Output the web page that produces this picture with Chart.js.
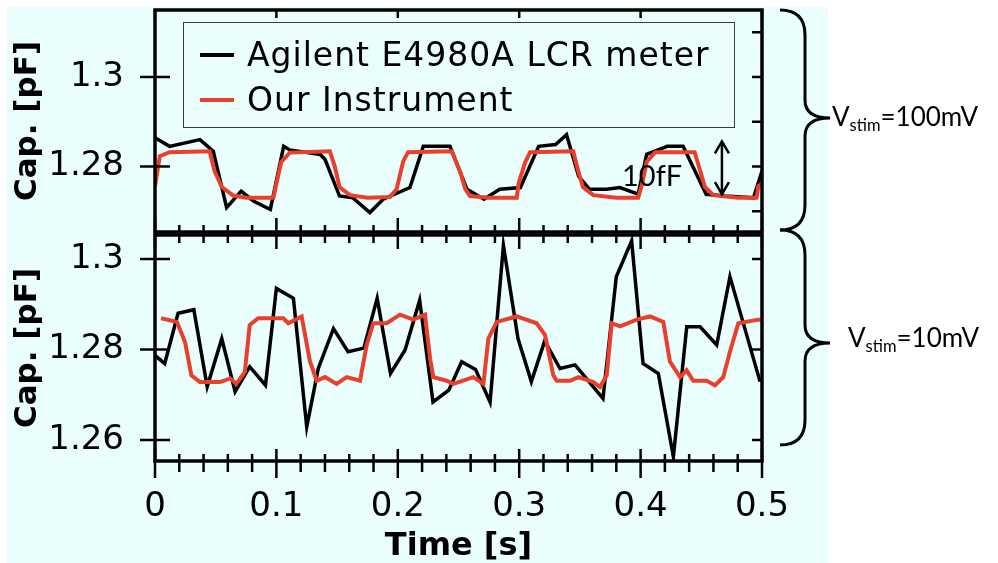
<!DOCTYPE html>
<html>
<head>
<meta charset="utf-8">
<title>Capacitance vs time</title>
<script src="https://cdn.jsdelivr.net/npm/chart.js@4.4.1/dist/chart.umd.min.js"></script>
<style>
    body { margin: 0; background: #fff; }
    #stage { position: relative; width: 998px; height: 563px; overflow: hidden; }
    #panel { position: absolute; left: 7px; top: 7px; width: 821px; height: 556px; background: #ebfefe; }
    canvas { position: absolute; left: 0; top: 0; }
    .legend { position: absolute; left: 183px; top: 22px; width: 550px; height: 104px;
              border: 1.5px solid #3c3c3c; font-family: "DejaVu Sans"; font-size: 33px; letter-spacing: 1px; }
    .legend .row { position: absolute; left: 63px; height: 40px; line-height: 40px; white-space: nowrap; }
    .legend .swatch { position: absolute; left: 16px; width: 34px; height: 3.5px; }
    .note { position: absolute; font-family: Lato; white-space: nowrap; color: #000; }
    .note .sub { font-size: 16.5px; position: relative; top: 5px; }
    svg { position: absolute; left: 0; top: 0; }
</style>
</head>
<body>
<div id="stage">
    <div id="panel"></div>
    <canvas id="capTop" width="998" height="563"></canvas>
    <canvas id="capBottom" width="998" height="563"></canvas>

    <div class="legend">
        <span class="swatch" style="top:30px;background:#000"></span>
        <div class="row" style="top:12px">Agilent E4980A LCR meter</div>
        <span class="swatch" style="top:75px;background:#e9402d"></span>
        <div class="row" style="top:57px">Our Instrument</div>
    </div>

    <div class="note" style="left:622px;top:160px;font-size:29px;line-height:30px">10fF</div>

    <svg width="998" height="563">
        <path d="M780,10 Q805,10 805,35 L805,100 Q805,118 830,118 Q805,118 805,136 L805,205 Q805,230 780,230"
              fill="none" stroke="#000" stroke-width="3"/>
        <path d="M780,230 Q805,230 805,255 L805,325 Q805,343 830,343 Q805,343 805,361 L805,420 Q805,445 780,445"
              fill="none" stroke="#000" stroke-width="3"/>
    </svg>
    <div class="note" style="left:832px;top:103px;font-size:26px;line-height:26px">V<span class="sub">stim</span>=100mV</div>
    <div class="note" style="left:848px;top:324px;font-size:26px;line-height:26px">V<span class="sub">stim</span>=10mV</div>
</div>

<script>
// Axis ticks
const xTickVals = [0, 0.1, 0.2, 0.3, 0.4, 0.5];
const xMinorVals = [0.02, 0.04, 0.06, 0.08, 0.12, 0.14, 0.16, 0.18, 0.22, 0.24, 0.26, 0.28,
                    0.32, 0.34, 0.36, 0.38, 0.42, 0.44, 0.46, 0.48];
const topYTicks = [1.28, 1.3];
const topYRightTicks = [1.27, 1.28, 1.29, 1.3, 1.31];
const bottomYTicks = [1.26, 1.28, 1.3];

// Top panel, Vstim = 100 mV (time in s, capacitance in pF)
const topLcrT = [0, 0.012, 0.037, 0.048, 0.059, 0.071, 0.081, 0.095, 0.106, 0.111, 0.136, 0.140,
                 0.152, 0.163, 0.177, 0.188, 0.210, 0.221, 0.243, 0.257, 0.271, 0.284, 0.301, 0.316,
                 0.330, 0.339, 0.349, 0.358, 0.372, 0.383, 0.398, 0.405, 0.422, 0.435, 0.454, 0.470,
                 0.493, 0.500];
const topLcrC = [1.2864, 1.2845, 1.2860, 1.2834, 1.2708, 1.2745, 1.2723, 1.2704, 1.2845, 1.2837, 1.2827, 1.2816,
                 1.2734, 1.2730, 1.2697, 1.2727, 1.2753, 1.2845, 1.2845, 1.2749, 1.2727, 1.2749, 1.2753, 1.2845,
                 1.2849, 1.2871, 1.2778, 1.2749, 1.2749, 1.2753, 1.2738, 1.2827, 1.2845, 1.2845, 1.2738, 1.2734,
                 1.2730, 1.2790];
const topOurT = [0, 0.004, 0.012, 0.045, 0.049, 0.055, 0.0645, 0.075, 0.0975, 0.100, 0.104, 0.111,
                 0.144, 0.148, 0.152, 0.1605, 0.175, 0.1935, 0.199, 0.2045, 0.2085, 0.2445, 0.2515, 0.2555,
                 0.2595, 0.275, 0.298, 0.2995, 0.305, 0.309, 0.3445, 0.3485, 0.3525, 0.361, 0.380, 0.398,
                 0.401, 0.405, 0.412, 0.4445, 0.449, 0.453, 0.460, 0.480, 0.4955, 0.497, 0.499];
const topOurC = [1.2756, 1.2823, 1.2832, 1.2834, 1.2790, 1.2754, 1.2735, 1.2730, 1.2730, 1.2762, 1.2810, 1.2831,
                 1.2834, 1.2801, 1.2754, 1.2736, 1.2730, 1.2732, 1.2749, 1.2812, 1.2832, 1.2834, 1.2787, 1.2750,
                 1.2734, 1.2730, 1.2730, 1.2762, 1.2810, 1.2832, 1.2834, 1.2791, 1.2754, 1.2736, 1.2730, 1.2730,
                 1.2758, 1.2810, 1.2832, 1.2832, 1.2791, 1.2754, 1.2736, 1.2730, 1.2730, 1.2756, 1.2760];

// Bottom panel, Vstim = 10 mV
const botLcrT = [0, 0.008, 0.019, 0.032, 0.043, 0.055, 0.066, 0.078, 0.091, 0.100, 0.114, 0.125,
                 0.1345, 0.147, 0.159, 0.172, 0.183, 0.194, 0.206, 0.218, 0.229, 0.242, 0.2526, 0.264,
                 0.276, 0.287, 0.299, 0.310, 0.321, 0.3336, 0.346, 0.369, 0.380, 0.3926, 0.402, 0.4146,
                 0.427, 0.438, 0.449, 0.4627, 0.4736, 0.4984];
const botLcrC = [1.2787, 1.2769, 1.2880, 1.2888, 1.2718, 1.2824, 1.2707, 1.2762, 1.2721, 1.2935, 1.2913, 1.2629,
                 1.2758, 1.2846, 1.2795, 1.2803, 1.2913, 1.2747, 1.2799, 1.2909, 1.2684, 1.2710, 1.2773, 1.2756,
                 1.2684, 1.3030, 1.2824, 1.2729, 1.2819, 1.2758, 1.2766, 1.2692, 1.2961, 1.3040, 1.2769, 1.2747,
                 1.2563, 1.2850, 1.2850, 1.2810, 1.2961, 1.2729];
const botOurT = [0.005, 0.018, 0.0247, 0.030, 0.037, 0.0535, 0.062, 0.067, 0.074, 0.078, 0.085, 0.1057,
                 0.1098, 0.1208, 0.1277, 0.1332, 0.140, 0.1496, 0.1579, 0.1689, 0.1744, 0.1798, 0.1908, 0.2018,
                 0.2128, 0.2224, 0.2266, 0.2293, 0.2403, 0.2458, 0.2622, 0.2705, 0.2746, 0.2815, 0.298, 0.3144,
                 0.3213, 0.3281, 0.3309, 0.3419, 0.3487, 0.3611, 0.3666, 0.3721, 0.3762, 0.3831, 0.3968, 0.4078,
                 0.4187, 0.4242, 0.4325, 0.4379, 0.4434, 0.4544, 0.4613, 0.4681, 0.4736, 0.4805, 0.4970, 0.4995];
const botOurC = [1.2869, 1.2861, 1.2817, 1.2743, 1.2728, 1.2728, 1.2736, 1.2724, 1.2750, 1.2854, 1.2869, 1.2869,
                 1.2858, 1.2873, 1.2773, 1.2731, 1.2739, 1.2724, 1.2739, 1.2731, 1.2810, 1.2858, 1.2858, 1.2877,
                 1.2866, 1.2877, 1.2780, 1.2739, 1.2731, 1.2724, 1.2739, 1.2724, 1.2824, 1.2861, 1.2873, 1.2858,
                 1.2832, 1.2743, 1.2731, 1.2731, 1.2739, 1.2728, 1.2717, 1.2743, 1.2858, 1.2851, 1.2866, 1.2873,
                 1.2861, 1.2773, 1.2739, 1.2754, 1.2731, 1.2731, 1.2721, 1.2739, 1.2795, 1.2858, 1.2866, 1.2866];

// 10 fF marker in the top panel
const arrowT = 0.467;
const arrowHigh = 1.2856;
const arrowLow = 1.2738;

const RED = '#e9402d';
const FONT = 'DejaVu Sans';

const toPoints = (ts, cs) => ts.map((t, i) => ({ x: t, y: cs[i] }));
const fmt = v => String(+v.toFixed(2));

function seg(ctx, x1, y1, x2, y2) {
    ctx.beginPath();
    ctx.moveTo(x1, y1);
    ctx.lineTo(x2, y2);
    ctx.stroke();
}

// frame + inward/crossing tick marks, placed with the chart's own scales
function framePlugin(cfg) {
    return {
        id: 'frame',
        afterDatasetsDraw(chart) {
            const { ctx, chartArea: a } = chart;
            const xs = chart.scales.x, ys = chart.scales.y;
            ctx.save();
            ctx.strokeStyle = '#000';
            ctx.lineWidth = 3.5;
            ctx.strokeRect(a.left, a.top, a.right - a.left, a.bottom - a.top);
            ctx.lineWidth = 2.5;
            cfg.leftTicks.forEach(v => {
                const p = ys.getPixelForValue(v);
                seg(ctx, a.left - 15, p, a.left + 15, p);
            });
            cfg.rightTicks.forEach(v => {
                const p = ys.getPixelForValue(v);
                seg(ctx, a.right - 10, p, a.right, p);
            });
            const edge = (vals, yEdge, inward, outward, dir) => vals.forEach(v => {
                const p = xs.getPixelForValue(v);
                seg(ctx, p, yEdge - dir * outward, p, yEdge + dir * inward);
            });
            if (cfg.topMajor) edge(xTickVals, a.top, cfg.topMajor[0], cfg.topMajor[1], 1);
            if (cfg.topMinor) edge(xMinorVals, a.top, cfg.topMinor[0], cfg.topMinor[1], 1);
            if (cfg.bottomMajor) edge(xTickVals, a.bottom, cfg.bottomMajor[0], cfg.bottomMajor[1], -1);
            if (cfg.bottomMinor) edge(xMinorVals, a.bottom, cfg.bottomMinor[0], cfg.bottomMinor[1], -1);
            if (cfg.extra) cfg.extra(chart);
            ctx.restore();
        }
    };
}

function yAxis(min, max, ticks) {
    return {
        type: 'linear',
        min: min,
        max: max,
        afterBuildTicks: s => { s.ticks = ticks.map(v => ({ value: v })); },
        afterFit: s => { s.width = 155; s.paddingTop = 0; s.paddingBottom = 0; },
        grid: { display: false },
        border: { display: false },
        ticks: { color: '#000', padding: 23, font: { family: FONT, size: 34 }, callback: fmt },
        title: {
            display: true,
            text: 'Cap. [pF]',
            color: '#000',
            padding: { top: 9, bottom: 0 },
            font: { family: FONT, size: 31, weight: 'bold' }
        }
    };
}

function lineSets(ourPts, lcrPts) {
    return [
        { label: 'Our Instrument', data: ourPts, borderColor: RED, borderWidth: 4,
          pointRadius: 0, tension: 0, fill: false },
        { label: 'Agilent E4980A LCR meter', data: lcrPts, borderColor: '#000', borderWidth: 3.5,
          pointRadius: 0, tension: 0, fill: false }
    ];
}

const common = {
    responsive: false,
    animation: false,
    events: [],
    plugins: { legend: { display: false }, tooltip: { enabled: false } }
};

new Chart(document.getElementById('capTop'), {
    type: 'line',
    data: { datasets: lineSets(toPoints(topOurT, topOurC), toPoints(topLcrT, topLcrC)) },
    options: {
        ...common,
        layout: { padding: { left: 0, top: 10, right: 236, bottom: 331 } },
        scales: {
            x: { type: 'linear', min: 0, max: 0.5, display: false },
            y: yAxis(1.26536, 1.31497, topYTicks)
        }
    },
    plugins: [framePlugin({
        leftTicks: topYTicks,
        rightTicks: topYRightTicks,
        topMajor: [8, 0],
        bottomMajor: [14, 0],
        bottomMinor: [7, 0],
        extra: chart => {
            const { ctx } = chart;
            const px = chart.scales.x.getPixelForValue(arrowT);
            const y1 = chart.scales.y.getPixelForValue(arrowHigh);
            const y2 = chart.scales.y.getPixelForValue(arrowLow);
            ctx.lineWidth = 2.5;
            seg(ctx, px, y1, px, y2);
            ctx.beginPath();
            ctx.moveTo(px - 7, y1 + 12); ctx.lineTo(px, y1); ctx.lineTo(px + 7, y1 + 12);
            ctx.moveTo(px - 7, y2 - 12); ctx.lineTo(px, y2); ctx.lineTo(px + 7, y2 - 12);
            ctx.stroke();
        }
    })]
});

new Chart(document.getElementById('capBottom'), {
    type: 'line',
    data: { datasets: lineSets(toPoints(botOurT, botOurC), toPoints(botLcrT, botLcrC)) },
    options: {
        ...common,
        layout: { padding: { left: 0, top: 235, right: 236, bottom: 0 } },
        scales: {
            x: {
                type: 'linear',
                min: 0,
                max: 0.5,
                afterBuildTicks: s => { s.ticks = xTickVals.map(v => ({ value: v })); },
                afterFit: s => { s.height = 102; s.paddingLeft = 0; s.paddingRight = 0; },
                grid: { display: false },
                border: { display: false },
                ticks: { color: '#000', padding: 18, maxRotation: 0, font: { family: FONT, size: 34 }, callback: fmt },
                title: {
                    display: true,
                    text: 'Time [s]',
                    color: '#000',
                    padding: { top: 0, bottom: -3 },
                    font: { family: FONT, size: 32, weight: 'bold' }
                }
            },
            y: yAxis(1.25536, 1.3053, bottomYTicks)
        }
    },
    plugins: [framePlugin({
        leftTicks: bottomYTicks,
        rightTicks: bottomYTicks,
        topMajor: [14, 0],
        topMinor: [8, 0],
        bottomMajor: [12, 17],
        bottomMinor: [7, 11]
    })]
});
</script>
</body>
</html>
